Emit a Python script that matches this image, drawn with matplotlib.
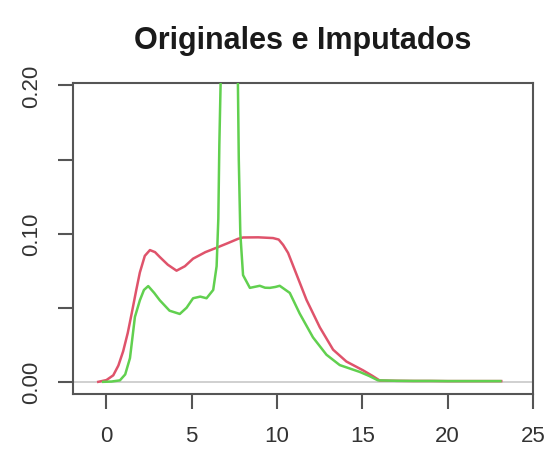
import matplotlib.pyplot as plt

plt.rcParams['font.family'] = ['Liberation Sans', 'DejaVu Sans']

# densidad de los originales (rojo)
x_orig = [-0.48, 0.0, 0.40, 0.7, 0.98, 1.25, 1.48, 1.75, 1.96, 2.25, 2.55, 2.85,
          3.13, 3.6, 4.11, 4.6, 5.08, 5.8, 6.46, 7.1, 7.72, 8.01, 8.9, 9.77,
          10.1, 10.36, 10.65, 10.94, 11.73, 12.51, 13.29, 14.07, 15.04, 15.6,
          16.02, 17.0, 18.0, 19.0, 20.0, 21.0, 22.0, 23.15]
y_orig = [0.0, 0.0012, 0.0044, 0.011, 0.0206, 0.033, 0.0461, 0.062, 0.0738, 0.085,
          0.0889, 0.0875, 0.0842, 0.079, 0.075, 0.078, 0.0831, 0.0875, 0.0905,
          0.0935, 0.0965, 0.0974, 0.0975, 0.097, 0.096, 0.0924, 0.087, 0.0785,
          0.0553, 0.0368, 0.0217, 0.0137, 0.0078, 0.004, 0.0009, 0.0007, 0.0006,
          0.0006, 0.0005, 0.0005, 0.0005, 0.0005]

# densidad de los imputados (verde)
x_imp = [-0.19, 0.3, 0.79, 1.1, 1.38, 1.67, 1.96, 2.2, 2.45, 2.8, 3.13, 3.7, 4.30,
         4.7, 5.08, 5.5, 5.87, 6.26, 6.46, 6.56, 6.62, 6.71, 7.1, 7.70, 7.76,
         7.85, 8.01, 8.41, 8.99, 9.3, 9.58, 9.9, 10.16, 10.75, 11.33, 12.11,
         12.90, 13.68, 14.85, 15.4, 15.92, 17.0, 18.0, 19.0, 20.0, 21.0, 22.0, 23.1]
y_imp = [0.0, 0.0002, 0.001, 0.005, 0.016, 0.0438, 0.055, 0.062, 0.0646, 0.060,
         0.055, 0.048, 0.0458, 0.050, 0.0564, 0.0575, 0.0564, 0.062, 0.078, 0.11,
         0.16, 0.21, 0.35, 0.21, 0.15, 0.10, 0.072, 0.0634, 0.0648, 0.0635, 0.0634,
         0.064, 0.0648, 0.060, 0.0461, 0.030, 0.0183, 0.0113, 0.0067, 0.004, 0.001,
         0.0007, 0.0006, 0.0006, 0.0005, 0.0005, 0.0005, 0.0005]

x_ticks = [0, 5, 10, 15, 20, 25]
y_ticks = [0.0, 0.05, 0.10, 0.15, 0.20]
y_labels = ['0.00', '', '0.10', '', '0.20']

fig = plt.figure(figsize=(5.51, 4.6), dpi=100)
ax = fig.add_axes([0.1325, 0.141, 0.8345, 0.676])

ax.axhline(0, color='#c8c8c8', lw=1.2, zorder=1)
ax.plot(x_orig, y_orig, color='#DF536B', lw=1.8, zorder=2)
ax.plot(x_imp, y_imp, color='#61D04F', lw=1.8, zorder=3)

ax.set_xlim(-1.96, 25)
ax.set_ylim(-0.0083, 0.2015)
ax.set_xticks(x_ticks)
ax.set_yticks(y_ticks)
ax.set_yticklabels(y_labels, rotation=90, va='center')

for s in ax.spines.values():
    s.set_color('#555555')
    s.set_linewidth(1.5)
ax.tick_params(direction='out', length=10.5, width=1.5, color='#555555',
               labelsize=16, labelcolor='#333333', pad=12)

fig.text(0.55, 0.91, 'Originales e Imputados', ha='center', va='center',
         fontsize=22, fontweight='bold', color='#1a1a1a')

fig.savefig('out.png', dpi=100)
